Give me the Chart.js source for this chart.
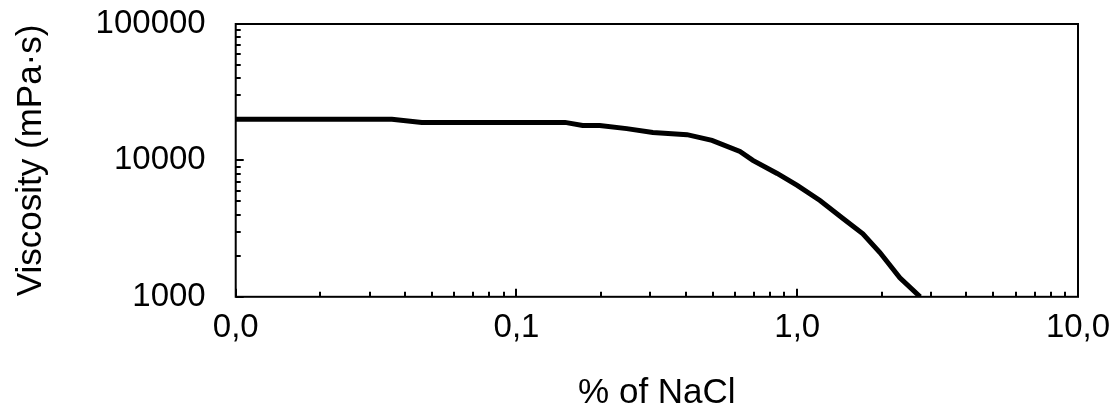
<!DOCTYPE html>
<html>
<head>
<meta charset="utf-8">
<script src="https://cdn.jsdelivr.net/npm/chart.js@4/dist/chart.umd.min.js"></script>
<style>
    body { margin: 0; background: #fff; }
    #wrap { width: 1116px; height: 417px; position: relative; }
</style>
</head>
<body>
<div id="wrap"><canvas id="viscosityChart"></canvas></div>
<script>
// % NaCl vs viscosity
const naclPercent = [0.01, 0.036, 0.046, 0.149, 0.172, 0.198, 0.247, 0.306, 0.405, 0.497, 0.625, 0.695, 0.848, 1.0, 1.205, 1.455, 1.713, 1.97, 2.32, 2.74];
const viscosity = [20000, 20000, 19000, 19000, 18000, 18000, 17100, 16000, 15450, 14030, 11650, 10000, 8020, 6550, 5080, 3750, 2900, 2110, 1380, 1000];

const xDecades = [0.01, 0.1, 1, 10];
const yDecades = [1000, 10000, 100000];

const FONT = { family: "'Liberation Sans', Arial, sans-serif", size: 33 };
const TITLE_FONT = { family: "'Liberation Sans', Arial, sans-serif", size: 35 };

const isDecade = v => Math.abs(Math.log10(v) - Math.round(Math.log10(v))) < 1e-9;

// 1..9 x 10^n ticks between the first and last decade
function logTicks(decades) {
    const ticks = [];
    decades.forEach((d, i) => {
        if (i === decades.length - 1) {
            ticks.push({ value: d, major: true });
            return;
        }
        for (let k = 1; k < 10; k++) {
            ticks.push({ value: +(k * d).toPrecision(6), major: k === 1 });
        }
    });
    return ticks;
}

// frame + inward tick marks
const frameTicks = {
    id: 'frameTicks',
    afterDraw(chart) {
        const ctx = chart.ctx;
        const area = chart.chartArea;
        ctx.save();
        ctx.strokeStyle = '#000';
        ctx.lineWidth = 2;
        ctx.strokeRect(area.left, area.top, area.right - area.left, area.bottom - area.top);

        chart.scales.x.ticks.forEach(t => {
            const px = Math.round(chart.scales.x.getPixelForValue(t.value));
            const len = t.major ? 8 : 5;
            ctx.beginPath();
            ctx.moveTo(px, area.bottom);
            ctx.lineTo(px, area.bottom - len);
            ctx.stroke();
        });
        chart.scales.y.ticks.forEach(t => {
            const py = Math.round(chart.scales.y.getPixelForValue(t.value));
            const len = t.major ? 8 : 5;
            ctx.beginPath();
            ctx.moveTo(area.left, py);
            ctx.lineTo(area.left + len, py);
            ctx.stroke();
        });
        ctx.restore();
    }
};

const ctx = document.getElementById('viscosityChart');
new Chart(ctx, {
    type: 'line',
    data: {
        datasets: [{
            label: 'Viscosity',
            data: naclPercent.map((x, i) => ({ x: x, y: viscosity[i] })),
            borderColor: '#000',
            borderWidth: 5,
            pointRadius: 0,
            tension: 0,
            fill: false
        }]
    },
    options: {
        responsive: true,
        maintainAspectRatio: false,
        animation: false,
        layout: { padding: 0 },
        plugins: {
            legend: { display: false },
            tooltip: { enabled: false }
        },
        scales: {
            x: {
                type: 'logarithmic',
                min: xDecades[0],
                max: xDecades[xDecades.length - 1],
                afterBuildTicks: scale => { scale.ticks = logTicks(xDecades); },
                afterFit: scale => { scale.paddingRight = 38; },
                grid: { display: false, drawTicks: false },
                border: { display: false },
                ticks: {
                    autoSkip: false,
                    maxRotation: 0,
                    padding: 11,
                    color: '#000',
                    font: FONT,
                    callback: v => isDecade(v) ? v.toFixed(1).replace('.', ',') : ''
                },
                title: {
                    display: true,
                    text: '% of NaCl',
                    color: '#000',
                    font: TITLE_FONT,
                    padding: { top: 13.6, bottom: 3 }
                }
            },
            y: {
                type: 'logarithmic',
                min: yDecades[0],
                max: yDecades[yDecades.length - 1],
                afterBuildTicks: scale => { scale.ticks = logTicks(yDecades); },
                afterFit: scale => { scale.paddingTop = 24; },
                grid: { display: false, drawTicks: false },
                border: { display: false },
                ticks: {
                    autoSkip: false,
                    padding: 30,
                    color: '#000',
                    font: FONT,
                    callback: v => isDecade(v) ? String(Math.round(v)) : ''
                },
                title: {
                    display: true,
                    text: 'Viscosity (mPa·s)',
                    color: '#000',
                    font: TITLE_FONT,
                    padding: { top: 10, bottom: 13.6 }
                }
            }
        }
    },
    plugins: [frameTicks]
});
</script>
</body>
</html>
